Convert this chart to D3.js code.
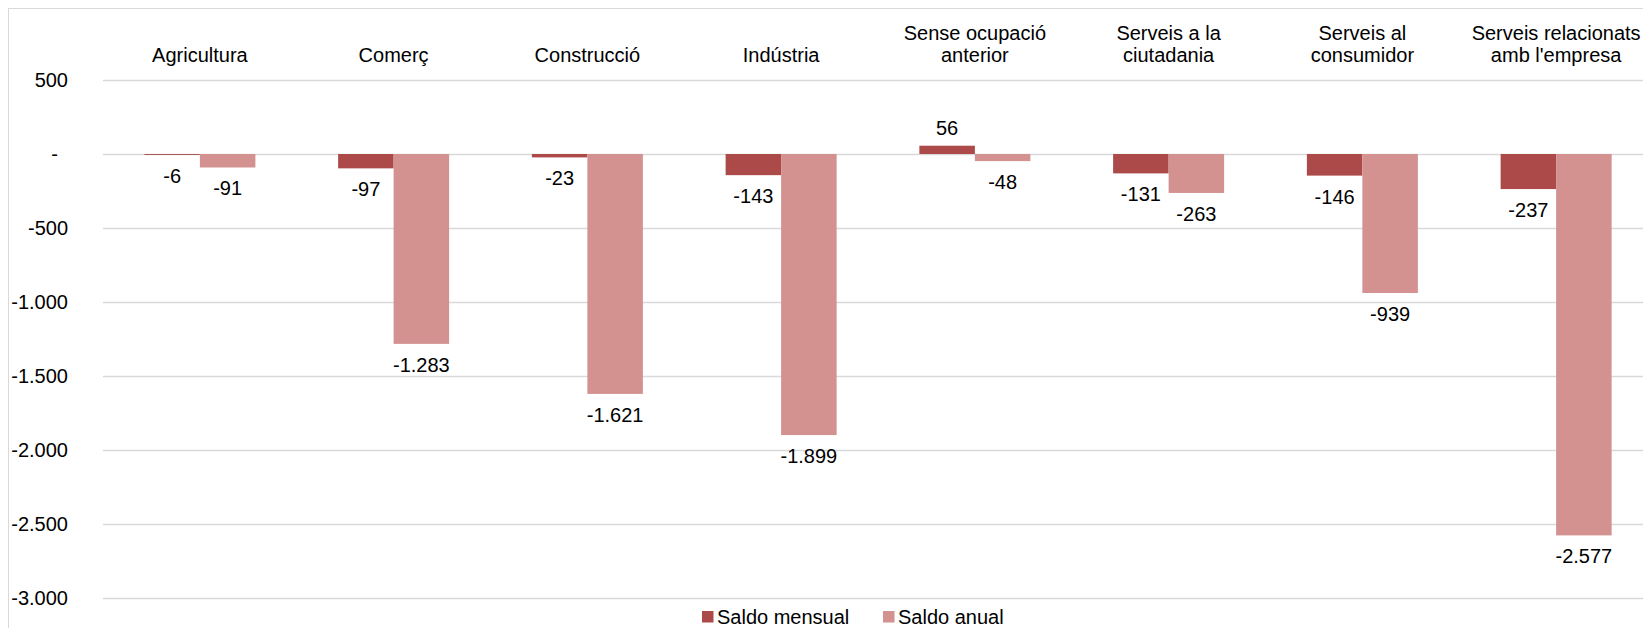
<!DOCTYPE html>
<html>
<head>
<meta charset="utf-8">
<script src="https://cdn.jsdelivr.net/npm/d3@7"></script>
<style>
  body { margin: 0; background: #fff; }
  text { font-family: "Liberation Sans", Arial, sans-serif; fill: #000; }
</style>
</head>
<body>
<div id="chart"></div>
<script>
const categories = [
    "Agricultura",
    "Comerç",
    "Construcció",
    "Indústria",
    "Sense ocupació\nanterior",
    "Serveis a la\nciutadania",
    "Serveis al\nconsumidor",
    "Serveis relacionats\namb l'empresa"
];
const seriesNames = ["Saldo mensual", "Saldo anual"];
const saldoMensual = [-6, -97, -23, -143, 56, -131, -146, -237];
const saldoAnual = [-91, -1283, -1621, -1899, -48, -263, -939, -2577];
const yTicks = [500, 0, -500, -1000, -1500, -2000, -2500, -3000];
const colors = ["#AB4A48", "#D39190"];

const width = 1643, height = 628;
const margin = { left: 103, right: -10, top: 80, bottom: 30 };

const locale = d3.formatLocale({ decimal: ",", thousands: ".", grouping: [3], currency: ["", ""], minus: "-" });
const fmt = locale.format(",d");

const svg = d3.select("#chart").append("svg")
    .attr("width", width)
    .attr("height", height);

// chart border
svg.append("rect")
    .attr("x", 8.5)
    .attr("y", 8.5)
    .attr("width", width + 20)
    .attr("height", height + 20)
    .attr("fill", "none")
    .attr("stroke", "#D9D9D9");

const x = d3.scaleBand()
    .domain(categories)
    .range([margin.left, width - margin.right]);

const x1 = d3.scaleBand()
    .domain(seriesNames)
    .range([x.bandwidth() / 2 - 55.5, x.bandwidth() / 2 + 55.5]);

const y = d3.scaleLinear()
    .domain([-3000, 500])
    .range([598, margin.top]);

// gridlines
svg.append("g")
    .selectAll("line")
    .data(yTicks)
    .join("line")
    .attr("x1", margin.left)
    .attr("x2", width)
    .attr("y1", d => Math.round(y(d)) + 0.5)
    .attr("y2", d => Math.round(y(d)) + 0.5)
    .attr("stroke", "#D9D9D9")
    .attr("stroke-width", 1.5);

// y labels
svg.append("g")
    .selectAll("text")
    .data(yTicks)
    .join("text")
    .attr("x", d => d === 0 ? 58 : 68)
    .attr("y", d => y(d))
    .attr("dy", "0.35em")
    .attr("text-anchor", "end")
    .style("font-size", "20px")
    .text(d => d === 0 ? "-" : fmt(d));

// category labels on top
const catG = svg.append("g")
    .selectAll("text")
    .data(categories)
    .join("text")
    .attr("text-anchor", "middle")
    .style("font-size", "20px");

catG.each(function (d) {
    const lines = d.split("\n");
    const t = d3.select(this);
    lines.forEach((line, i) => {
        t.append("tspan")
            .attr("x", x(d) + x.bandwidth() / 2)
            .attr("y", 55 - (lines.length - 1 - i) * 22.5)
            .attr("dy", "0.35em")
            .text(line);
    });
});

const rows = categories.map((c, i) => ({
    category: c,
    values: [
        { key: seriesNames[0], value: saldoMensual[i], color: colors[0] },
        { key: seriesNames[1], value: saldoAnual[i], color: colors[1] }
    ]
}));

const groups = svg.append("g")
    .selectAll("g")
    .data(rows)
    .join("g")
    .attr("transform", d => `translate(${x(d.category)},0)`);

groups.selectAll("rect")
    .data(d => d.values)
    .join("rect")
    .attr("x", d => x1(d.key))
    .attr("width", x1.bandwidth())
    .attr("y", d => y(Math.max(0, d.value)))
    .attr("height", d => Math.abs(y(d.value) - y(0)))
    .attr("fill", d => d.color);

groups.selectAll("text")
    .data(d => d.values)
    .join("text")
    .attr("x", d => x1(d.key) + x1.bandwidth() / 2)
    .attr("y", d => d.value >= 0 ? y(d.value) - 18 : y(d.value) + 21)
    .attr("dy", "0.35em")
    .attr("text-anchor", "middle")
    .style("font-size", "20px")
    .text(d => fmt(d.value));

// legend
const legendX = [702, 883];
const legend = svg.append("g")
    .selectAll("g")
    .data(seriesNames)
    .join("g")
    .attr("transform", (d, i) => `translate(${legendX[i]},611)`);

legend.append("rect")
    .attr("width", 11.5)
    .attr("height", 11.5)
    .attr("fill", (d, i) => colors[i]);

legend.append("text")
    .attr("x", 15)
    .attr("y", 6)
    .attr("dy", "0.35em")
    .style("font-size", "20px")
    .text(d => d);
</script>
</body>
</html>
